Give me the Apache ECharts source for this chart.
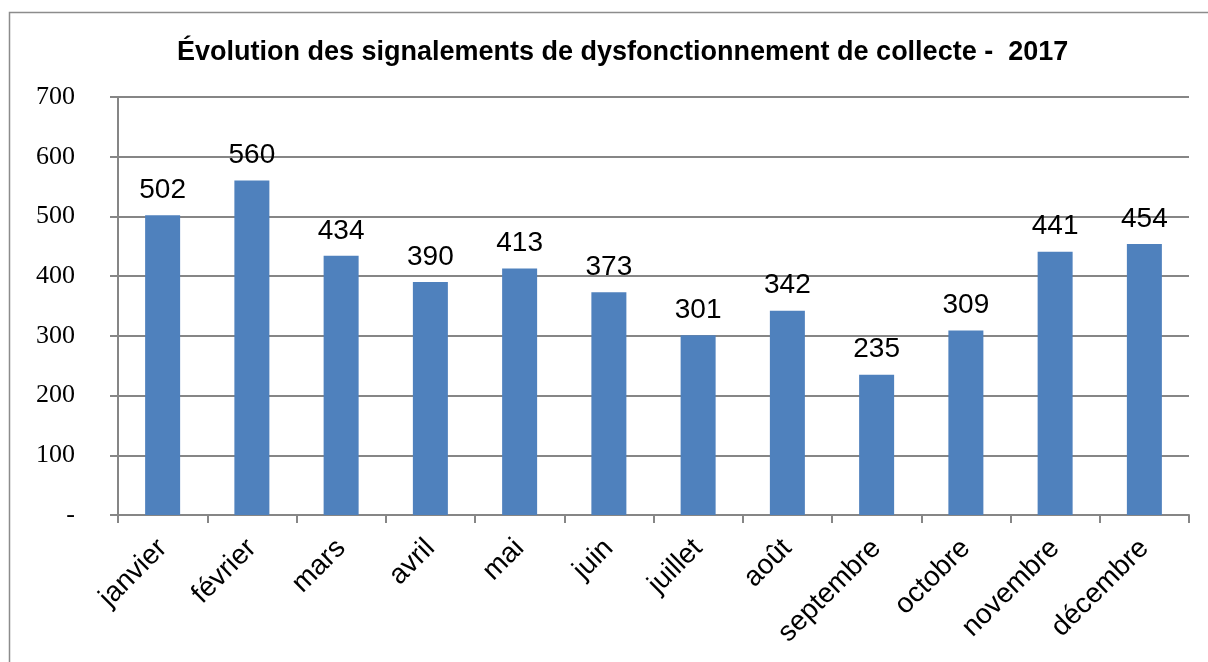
<!DOCTYPE html>
<html>
<head>
<meta charset="utf-8">
<script src="https://cdn.jsdelivr.net/npm/echarts@6/dist/echarts.min.js"></script>
<style>
  html, body { margin: 0; padding: 0; background: #fff; }
  #chart { width: 1208px; height: 662px; }
</style>
</head>
<body>
<div id="chart"></div>
<script>
  var months = ['janvier', 'février', 'mars', 'avril', 'mai', 'juin', 'juillet', 'août', 'septembre', 'octobre', 'novembre', 'décembre'];
  var signalements = [502, 560, 434, 390, 413, 373, 301, 342, 235, 309, 441, 454];
  var yTicks = [0, 100, 200, 300, 400, 500, 600, 700];

  var chart = echarts.init(document.getElementById('chart'));
  chart.setOption({
    animation: false,
    title: {
      text: 'Évolution des signalements de dysfonctionnement de collecte -  2017',
      left: 172,
      top: 34,
      textStyle: { fontFamily: 'Liberation Sans', fontSize: 27, fontWeight: 'bold', color: '#000' }
    },
    graphic: [{
      type: 'rect',
      shape: { x: 9.5, y: 12.5, width: 1220, height: 680 },
      style: { fill: 'none', stroke: '#8c8c8c', lineWidth: 1.5 },
      silent: true
    }],
    grid: { left: 118, right: 19, top: 97, bottom: 147 },
    xAxis: {
      type: 'category',
      data: months,
      axisLine: { lineStyle: { color: '#868686', width: 2 } },
      axisTick: { show: true, alignWithLabel: false, length: 8, lineStyle: { color: '#868686', width: 2 } },
      axisLabel: {
        rotate: 45, interval: 0, margin: 29,
        fontFamily: 'Liberation Sans', fontSize: 28, color: '#000'
      }
    },
    yAxis: {
      type: 'value',
      min: yTicks[0],
      max: yTicks[yTicks.length - 1],
      interval: 100,
      axisLine: { show: true, lineStyle: { color: '#868686', width: 2 } },
      axisTick: { show: true, length: 8, lineStyle: { color: '#868686', width: 2 } },
      splitLine: { lineStyle: { color: '#868686', width: 2 } },
      axisLabel: {
        margin: 43,
        fontFamily: 'Liberation Serif', fontSize: 26, color: '#000',
        formatter: function (v) { return v === 0 ? '-' : String(v); }
      }
    },
    series: [{
      type: 'bar',
      data: signalements,
      barWidth: 35,
      itemStyle: { color: '#4F81BD' },
      label: {
        show: true, position: 'top', distance: 11,
        fontFamily: 'Liberation Sans', fontSize: 28, color: '#000'
      }
    }]
  });
</script>
</body>
</html>
